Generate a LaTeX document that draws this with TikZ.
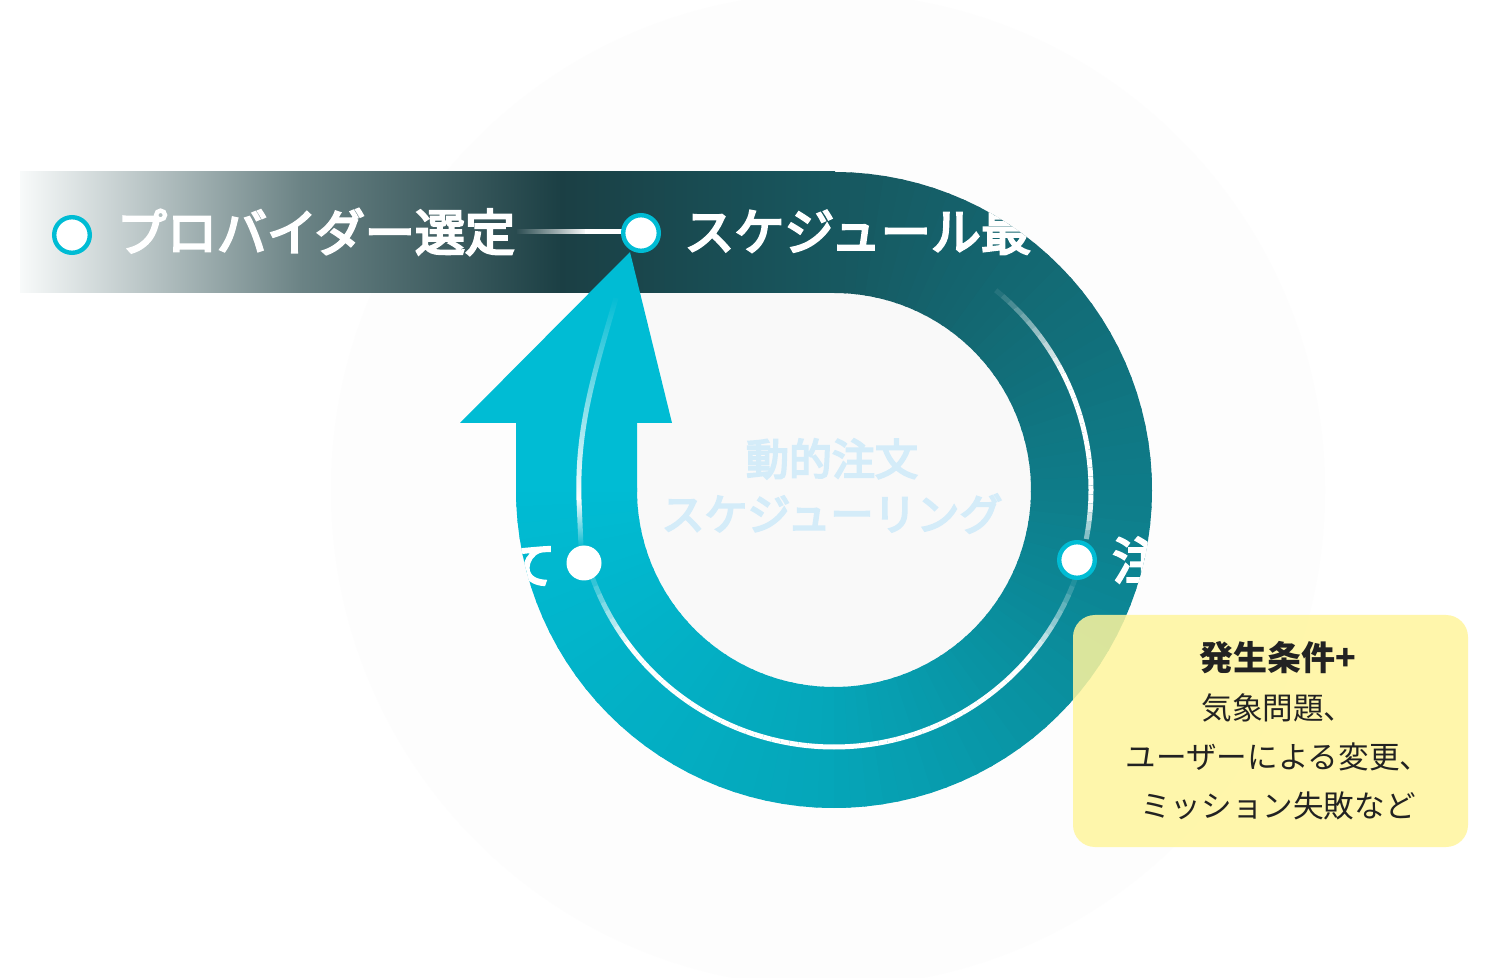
\documentclass[tikz,border=0pt]{standalone}
\usepackage{fontspec}
\newfontfamily\jp{Noto Sans CJK JP}
\newfontfamily\jpw{Noto Sans CJK JP}[FakeBold=4.5]
\usetikzlibrary{fadings}
\definecolor{cT}{HTML}{175860}
\definecolor{cR}{HTML}{0E7D8A}
\definecolor{cB}{HTML}{05A6B9}
\definecolor{cL}{HTML}{00BCD4}
\definecolor{bandA}{HTML}{F8FAFA}
\definecolor{bandB}{HTML}{6B8385}
\definecolor{bandC}{HTML}{1B3F44}
\definecolor{bgA}{HTML}{FDFDFD}
\definecolor{bgB}{HTML}{F9F9F9}
\definecolor{ctext}{HTML}{D4ECF9}
\definecolor{boxy}{HTML}{FFF59D}
\definecolor{boxtext}{HTML}{222222}
\begin{document}
\begin{tikzpicture}[x=0.5pt,y=-0.5pt,
  dot/.style={circle, draw=cL, fill=white, line width=2.2pt, minimum size=17.8pt, inner sep=0pt},
  dotplain/.style={circle, fill=white, minimum size=17.5pt, inner sep=0pt},
  lbl/.style={font=\jpw\fontsize{25}{30}\selectfont, text=white, inner sep=0pt},
  track/.style={draw=white, line width=2.5pt},
  connector/.style={draw=white, line width=2.5pt},
  condbox/.style={rounded corners=11pt, fill=boxy, fill opacity=0.85,
    minimum width=197.5pt, minimum height=116pt},
  condtext/.style={align=center, text=boxtext, inner sep=0pt,
    font=\jp\fontsize{15.3}{24.5}\selectfont},
  centertext/.style={font=\jpw\fontsize{21.5}{27.5}\selectfont, text=ctext, align=center}]
\useasboundingbox (0,0) rectangle (1495,978);
\fill[white] (0,0) rectangle (1495,978);
% faint background disks
\fill[bgA] (828,490) circle[radius=497];
\fill[bgB] (833,490) circle[radius=300];
% band
\shade[left color=bandA, right color=bandB] (20,172) rectangle (301,293);
\shade[left color=bandB, right color=bandC] (300,172) rectangle (561,293);
\shade[left color=bandC, right color=cT] (560,172) rectangle (835,293);
% ring (conic gradient by wedges)
\foreach \a in {-90,-87,...,-3}{
  \pgfmathtruncatemacro\p{(\a+90)/0.9}
  \pgfmathsetmacro\b{\a+3.6}
  \colorlet{wc}{cR!\p!cT}
  \fill[wc] ([shift={(834,490)}]\a:318) arc[start angle=\a, end angle=\b, radius=318]
    -- ([shift={(834,490)}]\b:197) arc[start angle=\b, end angle=\a, radius=197] -- cycle;
}
\foreach \a in {0,3,...,87}{
  \pgfmathtruncatemacro\p{\a/0.9}
  \pgfmathsetmacro\b{\a+3.6}
  \colorlet{wc}{cB!\p!cR}
  \fill[wc] ([shift={(834,490)}]\a:318) arc[start angle=\a, end angle=\b, radius=318]
    -- ([shift={(834,490)}]\b:197) arc[start angle=\b, end angle=\a, radius=197] -- cycle;
}
\foreach \a in {90,93,...,177}{
  \pgfmathtruncatemacro\p{(\a-90)/0.9}
  \pgfmathsetmacro\b{\a+3.6}
  \colorlet{wc}{cL!\p!cB}
  \fill[wc] ([shift={(834,490)}]\a:318) arc[start angle=\a, end angle=\b, radius=318]
    -- ([shift={(834,490)}]\b:197) arc[start angle=\b, end angle=\a, radius=197] -- cycle;
}
% shaft and arrowhead
\fill[cL] (516,492) -- (516,423) -- (460,423) -- (630,252) -- (672,423) -- (637,423) -- (637,492) -- cycle;
% track
\foreach \a in {-53,-51,...,9}{
  \pgfmathsetmacro\o{max(0,min(1,(\a+53)/25,(16-\a)/14))}
  \pgfmathsetmacro\b{\a+2}
  \draw[track, draw opacity=\o] ([shift={(834,490)}]\a:257) arc[start angle=\a, end angle=\b, radius=257];
}
\foreach \a in {20,22,...,158}{
  \pgfmathsetmacro\o{max(0,min(1,(\a-18)/22,(162-\a)/20))}
  \pgfmathsetmacro\b{\a+2}
  \draw[track, draw opacity=\o] ([shift={(834,490)}]\a:257) arc[start angle=\a, end angle=\b, radius=257];
}
\draw[track, path fading=north] (616,298) .. controls (592,380) and (577,430) .. (579,500);
\draw[track, path fading=south] (579,500) -- (581,546);
% nodes
\node[dot] (A) at (72,235) {};
\node[lbl] (lbl1) at (316,232) {プロバイダー選定};
\coordinate (abmid) at (585,232);
\draw[connector, path fading=west] ([xshift=1pt]lbl1.east) -- (abmid);
\draw[connector] (abmid) -- (641,232);
\node[dot] (B) at (641,233) {};
\node[dot] (C) at (1077,560) {};
\node[dotplain] (D) at (584,563) {};
% clipped labels
\begin{scope}
\clip (0,172) -- (834,172) arc[start angle=-90, end angle=218.2, radius=318] -- (0,293) -- cycle;
\node[lbl, anchor=west] (lbl2) at (684,232) {スケジュール最};
\node[lbl, anchor=east] (lbl4) at (556,566) {て};
\node[lbl, anchor=west] (lbl3) at (1112,560) {注};
\end{scope}
% centre title
\node[centertext] (title) at (832,486) {動的注文\\スケジューリング};
% condition box
\node[condbox] (cond) at (1270.5,731) {};
\node[condtext] (condtxt) at (1278,731) {{\bfseries\fontsize{17}{25}\selectfont 発生条件+}\\気象問題、\\ユーザーによる変更、\\ミッション失敗など};
\end{tikzpicture}
\end{document}
